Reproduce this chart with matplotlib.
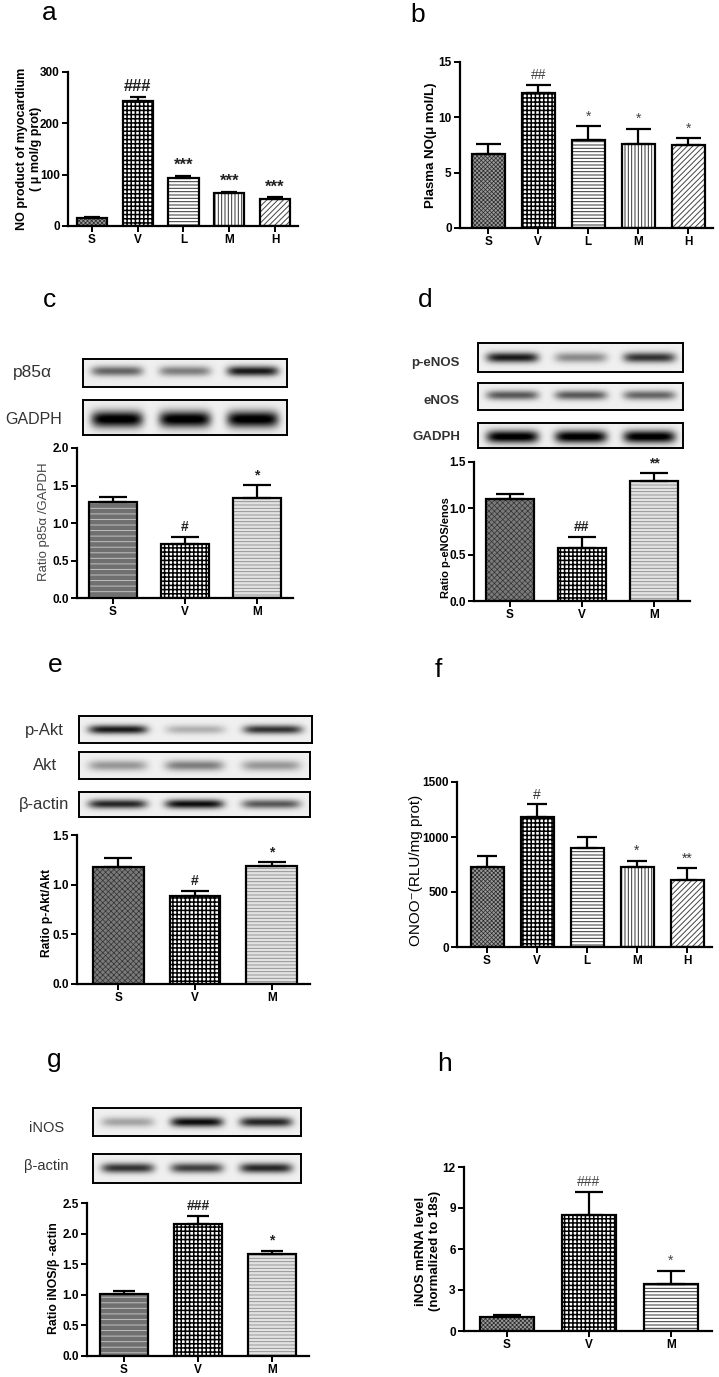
import numpy as np
import matplotlib
matplotlib.use("Agg")
import matplotlib.pyplot as plt

plt.rcParams['font.family'] = ['Liberation Sans', 'DejaVu Sans']
plt.rcParams['hatch.linewidth'] = 0.8

W, H = 719, 1377

# ---------------- data ----------------
groups5 = ['S', 'V', 'L', 'M', 'H']
groups3 = ['S', 'V', 'M']

a_mean = [15, 243, 93, 64, 52]
a_sem = [2, 8, 5, 3, 4]
a_sig = ['', '###', '***', '***', '***']

b_mean = [6.7, 12.2, 7.95, 7.6, 7.5]
b_sem = [0.9, 0.7, 1.25, 1.35, 0.6]
b_sig = ['', '##', '*', '*', '*']

c_mean = [1.28, 0.72, 1.33]
c_sem = [0.07, 0.10, 0.18]
c_sig = ['', '#', '*']
c_p85 = [0.55, 0.45, 0.85]
c_gapdh = [1.0, 1.0, 1.0]

d_mean = [1.10, 0.57, 1.29]
d_sem = [0.05, 0.12, 0.09]
d_sig = ['', '##', '**']
d_peNOS = [0.85, 0.4, 0.75]
d_eNOS = [0.6, 0.6, 0.55]
d_gapdh = [1.0, 1.0, 1.0]

e_mean = [1.18, 0.89, 1.19]
e_sem = [0.09, 0.05, 0.04]
e_sig = ['', '#', '*']
e_pAkt = [0.85, 0.25, 0.75]
e_Akt = [0.35, 0.45, 0.35]
e_actin = [0.8, 0.9, 0.6]

f_mean = [730, 1185, 903, 725, 609]
f_sem = [97, 112, 100, 60, 106]
f_sig = ['', '#', '', '*', '**']

g_mean = [1.02, 2.16, 1.66]
g_sem = [0.05, 0.13, 0.06]
g_sig = ['', '###', '*']
g_iNOS = [0.3, 0.9, 0.8]
g_actin = [0.75, 0.7, 0.8]

h_mean = [1.05, 8.5, 3.45]
h_sem = [0.15, 1.7, 0.95]
h_sig = ['', '###', '*']

# ---------------- styles ----------------
PAT = {
    'grid':     dict(face='#9a9a9a', hc='#2a2a2a', hatch='xxxxxxxx', hlw=0.5),
    'checker':  dict(face='white', hc='black', hatch='++++', hlw=1.1),
    'hlines':   dict(face='white', hc='#333333', hatch='-----', hlw=0.7),
    'vlines':   dict(face='white', hc='#333333', hatch='|||||', hlw=0.7),
    'diag':     dict(face='white', hc='#444444', hatch='//////', hlw=0.7),
    'darkh':    dict(face='#707070', hc='#c0c0c0', hatch='---', hlw=0.7),
    'lighth':   dict(face='#e2e2e2', hc='#8a8a8a', hatch='-----', hlw=0.6),
    'darkgrid': dict(face='#7a7a7a', hc='#333333', hatch='xxxxxx', hlw=0.5),
}

fig = plt.figure(figsize=(W / 100, H / 100), dpi=100)


def add_ax(x0, y0, x1, y1):
    return fig.add_axes([x0 / W, 1 - y1 / H, (x1 - x0) / W, (y1 - y0) / H])


def ftext(x, y, s, **kw):
    fig.text(x / W, 1 - y / H, s, **kw)


def bar_panel(rect, cats, mean, sem, sig, pats, ymax, ticks, fmt, xpad=0.55,
              capsize=7, sig_size=10, sig_weight='bold', sig_color='#222222'):
    ax = add_ax(*rect)
    x = np.arange(len(cats))
    w = 0.66
    for i in range(len(cats)):
        p = PAT[pats[i]]
        b = ax.bar(x[i], mean[i], w, color=p['face'], edgecolor=p['hc'],
                   hatch=p['hatch'], lw=0, zorder=2)
        for r in b:
            if hasattr(r, 'set_hatch_linewidth'):
                r.set_hatch_linewidth(p['hlw'])
    ax.bar(x, mean, w, fill=False, edgecolor='black', lw=1.6, zorder=3)
    ax.errorbar(x, mean, yerr=[np.zeros(len(x)), sem], fmt='none', ecolor='black',
                elinewidth=1.6, capsize=capsize, capthick=1.6, zorder=4)
    for i, s in enumerate(sig):
        if s:
            ax.annotate(s, (x[i], mean[i] + sem[i]), xytext=(0, 2),
                        textcoords='offset points', ha='center', va='bottom',
                        fontsize=sig_size, fontweight=sig_weight, color=sig_color)
    ax.set_xlim(-xpad, len(cats) - 0.5)
    ax.set_ylim(0, ymax)
    ax.set_yticks(ticks)
    ax.set_yticklabels([fmt % t for t in ticks])
    ax.set_xticks(x)
    ax.set_xticklabels(cats)
    for sp in ['top', 'right']:
        ax.spines[sp].set_visible(False)
    for sp in ['left', 'bottom']:
        ax.spines[sp].set_linewidth(1.6)
    ax.tick_params(direction='out', length=4, width=1.4, labelsize=8.5, pad=2)
    for lab in ax.get_xticklabels() + ax.get_yticklabels():
        lab.set_fontweight('bold')
    ax.set_facecolor('none')
    return ax


def blot(rect, bands, sy=0.2, yc=0.5):
    ax = add_ax(*rect)
    xs = np.linspace(0, 3, 300)
    ys = np.linspace(0, 1, 40)
    X, Y = np.meshgrid(xs, ys)
    img = np.full(X.shape, 0.06)
    for i, d in enumerate(bands):
        env = np.exp(-((X - (i + 0.5)) / 0.38) ** 6)
        img = img + d * env * np.exp(-((Y - yc) / sy) ** 2)
    ax.imshow(img, cmap='gray_r', vmin=0, vmax=1, extent=(0, 3, 0, 1),
              aspect='auto', interpolation='bilinear', origin='lower')
    ax.set_xticks([])
    ax.set_yticks([])
    for sp in ax.spines.values():
        sp.set_linewidth(1.4)
    return ax


# ---------------- panel a ----------------
bar_panel((68, 72, 298, 226), groups5, a_mean, a_sem, a_sig,
          ['grid', 'checker', 'hlines', 'vlines', 'diag'],
          300, [0, 100, 200, 300], '%d', xpad=0.52, capsize=6, sig_size=12)
ftext(29, 149, 'NO product of myocardium\n( \u03bc mol/g prot)', rotation=90,
      ha='center', va='center', fontsize=9, fontweight='bold', linespacing=1.15)
ftext(42, 20, 'a', fontsize=19, va='baseline')

# ---------------- panel b ----------------
bar_panel((460, 62, 713, 228), groups5, b_mean, b_sem, b_sig,
          ['grid', 'checker', 'hlines', 'vlines', 'diag'],
          15, [0, 5, 10, 15], '%d', xpad=0.57, capsize=9, sig_size=10,
          sig_weight='normal', sig_color='#444444')
ftext(431, 145, 'Plasma NO(\u03bc mol/L)', rotation=90, ha='center', va='center',
      fontsize=9.5, fontweight='bold')
ftext(410, 22, 'b', fontsize=19, va='baseline')

# ---------------- panel c ----------------
blot((83, 359, 287, 387), c_p85, sy=0.18, yc=0.55)
blot((83, 400, 287, 435), c_gapdh, sy=0.24, yc=0.45)
ftext(32, 373, 'p85\u03b1', ha='center', va='center', fontsize=12.5, color='#333333')
ftext(34, 420, 'GADPH', ha='center', va='center', fontsize=11.5, color='#333333')
bar_panel((77, 448, 293, 598), groups3, c_mean, c_sem, c_sig,
          ['darkh', 'checker', 'lighth'],
          2.0, [0.0, 0.5, 1.0, 1.5, 2.0], '%.1f', xpad=0.5, capsize=10, sig_size=10)
ftext(44, 522, 'Ratio p85\u03b1 /GAPDH', rotation=90, ha='center', va='center',
      fontsize=9.5, color='#444444')
ftext(43, 307, 'c', fontsize=19, va='baseline')

# ---------------- panel d ----------------
blot((478, 343, 683, 372), d_peNOS, sy=0.18)
blot((478, 383, 683, 410), d_eNOS, sy=0.18, yc=0.55)
blot((478, 423, 683, 448), d_gapdh, sy=0.26, yc=0.45)
ftext(460, 363, 'p-eNOS', ha='right', va='center', fontsize=9.5, fontweight='bold', color='#333333')
ftext(460, 401, 'eNOS', ha='right', va='center', fontsize=9.5, fontweight='bold', color='#333333')
ftext(460, 437, 'GADPH', ha='right', va='center', fontsize=9.5, fontweight='bold', color='#333333')
bar_panel((474, 462, 690, 601), groups3, d_mean, d_sem, d_sig,
          ['darkgrid', 'checker', 'lighth'],
          1.5, [0.0, 0.5, 1.0, 1.5], '%.1f', xpad=0.5, capsize=10, sig_size=10)
ftext(446, 548, 'Ratio p-eNOS/enos', rotation=90, ha='center', va='center',
      fontsize=8, fontweight='bold')
ftext(418, 307, 'd', fontsize=19, va='baseline')

# ---------------- panel e ----------------
blot((79, 716, 312, 743), e_pAkt, sy=0.17)
blot((79, 752, 310, 779), e_Akt, sy=0.2)
blot((79, 792, 310, 817), e_actin, sy=0.18)
ftext(44, 730, 'p-Akt', ha='center', va='center', fontsize=12, color='#333333')
ftext(45, 766, 'Akt', ha='center', va='center', fontsize=12, color='#333333')
ftext(44, 805, '\u03b2-actin', ha='center', va='center', fontsize=12, color='#333333')
bar_panel((77, 835, 310, 984), groups3, e_mean, e_sem, e_sig,
          ['darkgrid', 'checker', 'lighth'],
          1.5, [0.0, 0.5, 1.0, 1.5], '%.1f', xpad=0.54, capsize=10, sig_size=10)
ftext(47, 913, 'Ratio p-Akt/Akt', rotation=90, ha='center', va='center',
      fontsize=8.7, fontweight='bold')
ftext(48, 672, 'e', fontsize=19, va='baseline')

# ---------------- panel f ----------------
bar_panel((457, 782, 712, 947), groups5, f_mean, f_sem, f_sig,
          ['grid', 'checker', 'hlines', 'vlines', 'diag'],
          1500, [0, 500, 1000, 1500], '%d', xpad=0.6, capsize=7, sig_size=10,
          sig_weight='normal', sig_color='#333333')
ftext(416, 870, 'ONOO\u207b(RLU/mg prot)', rotation=90, ha='center', va='center',
      fontsize=11)
ftext(435, 677, 'f', fontsize=19, va='baseline')

# ---------------- panel g ----------------
blot((93, 1108, 301, 1136), g_iNOS, sy=0.18)
blot((93, 1154, 301, 1183), g_actin, sy=0.17)
ftext(47, 1128, 'iNOS', ha='center', va='center', fontsize=10.5, color='#333333')
ftext(46, 1166, '\u03b2-actin', ha='center', va='center', fontsize=10.5, color='#333333')
bar_panel((87, 1203, 309, 1356), groups3, g_mean, g_sem, g_sig,
          ['darkh', 'checker', 'lighth'],
          2.5, [0.0, 0.5, 1.0, 1.5, 2.0, 2.5], '%.1f', xpad=0.5, capsize=8, sig_size=10)
ftext(54, 1278, 'Ratio iNOS/\u03b2 -actin', rotation=90, ha='center', va='center',
      fontsize=8.8, fontweight='bold')
ftext(47, 1067, 'g', fontsize=19, va='baseline')

# ---------------- panel h ----------------
bar_panel((464, 1167, 712, 1331), groups3, h_mean, h_sem, h_sig,
          ['grid', 'checker', 'hlines'],
          12, [0, 3, 6, 9, 12], '%d', xpad=0.52, capsize=10, sig_size=10,
          sig_weight='normal', sig_color='#444444')
ftext(428, 1251, 'iNOS mRNA level\n(normalized to 18s)', rotation=90, ha='center',
      va='center', fontsize=9.5, fontweight='bold', linespacing=1.15)
ftext(437, 1071, 'h', fontsize=19, va='baseline')

fig.savefig('out.png', dpi=100)
